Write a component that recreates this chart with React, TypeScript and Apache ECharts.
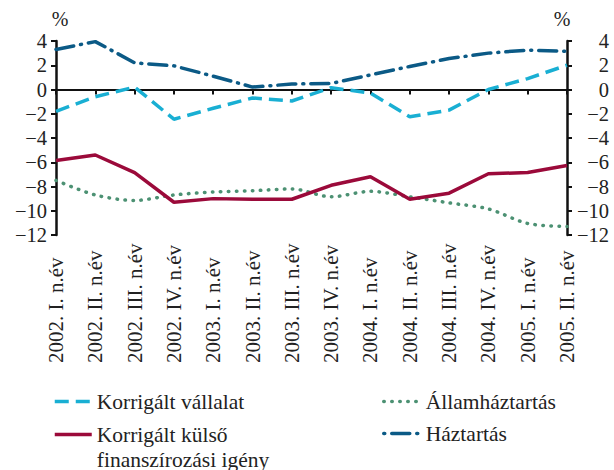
import React, { useEffect, useRef } from 'react';
import * as echarts from 'echarts';

const categories = [
  '2002. I. n.év', '2002. II. n.év', '2002. III. n.év', '2002. IV. n.év',
  '2003. I. n.év', '2003. II. n.év', '2003. III. n.év', '2003. IV. n.év',
  '2004. I. n.év', '2004. II. n.év', '2004. III. n.év', '2004. IV. n.év',
  '2005. I. n.év', '2005. II. n.év',
];
const vallalat = [-1.8, -0.6, 0.2, -2.45, -1.55, -0.7, -0.95, 0.15, -0.3, -2.25, -1.7, 0.0, 0.9, 2.0];
const kulso = [-5.85, -5.4, -6.85, -9.3, -9.0, -9.05, -9.05, -7.9, -7.2, -9.05, -8.55, -6.95, -6.85, -6.27];
const allam = [-7.5, -8.7, -9.15, -8.7, -8.45, -8.35, -8.2, -8.85, -8.4, -8.85, -9.35, -9.85, -11.05, -11.3];
const haztartas = [3.3, 3.95, 2.2, 1.95, 1.1, 0.2, 0.45, 0.5, 1.2, 1.9, 2.55, 3.0, 3.25, 3.15];

const Y_MIN = -12;
const Y_MAX = 4;
const Y_STEP = 2;

const NAME_V = 'Korrigált vállalat';
const NAME_K = 'Korrigált külső finanszírozási igény';
const NAME_A = 'Államháztartás';
const NAME_H = 'Háztartás';

const C_V = '#19AFD3';
const C_K = '#9B0A3A';
const C_A = '#4C9173';
const C_H = '#0B5A86';

const FONT = "'Liberation Serif', 'Times New Roman', serif";
const TXT = '#222222';

const fmt = (v: number) => (v < 0 ? '\u2212' + Math.abs(v) : String(v));

export default function App() {
  const ref = useRef<HTMLDivElement>(null);
  useEffect(() => {
    if (!ref.current) return;
    const chart = echarts.init(ref.current, null, { renderer: 'svg' });
    const legendBase = (name: string, left: number, top: number, extra: any = {}) => ({
      show: true,
      data: [name],
      left,
      top,
      padding: 0,
      itemWidth: 37,
      itemHeight: 14,
      selectedMode: false,
      itemStyle: { color: 'transparent', borderColor: 'transparent', borderWidth: 0, opacity: 0 },
      lineStyle: { width: 3.5, ...(extra.lineStyle || {}) },
      textStyle: { fontFamily: FONT, fontSize: 21.5, color: TXT, lineHeight: 25 },
      ...(extra.formatter ? { formatter: extra.formatter } : {}),
    });
    const yAxisBase = (pos: 'left' | 'right') => ({
      type: 'value',
      position: pos,
      min: Y_MIN,
      max: Y_MAX,
      interval: Y_STEP,
      name: '%',
      nameLocation: 'end',
      nameGap: 12,
      nameTextStyle: {
        fontFamily: FONT,
        fontSize: 20,
        color: TXT,
        padding: pos === 'left' ? [0, 0, 0, 8] : [0, 10, 0, 0],
      },
      axisLine: { show: true, lineStyle: { color: '#111', width: 2.5 } },
      axisTick: { show: true, length: 5, lineStyle: { color: '#111', width: 2 } },
      axisLabel: {
        fontFamily: FONT,
        fontSize: 20.5,
        color: TXT,
        margin: pos === 'left' ? 9 : 42,
        align: 'right',
        formatter: fmt,
      },
      splitLine: { show: false },
    });
    chart.setOption({
      animation: false,
      backgroundColor: '#ffffff',
      grid: { left: 56, right: 47, top: 41, bottom: 235, containLabel: false },
      legend: [
        legendBase(NAME_V, 53, 389),
        legendBase(NAME_K, 53, 397, {
          formatter: () => '\nKorrigált külső\nfinanszírozási igény',
        }),
        legendBase(NAME_A, 382, 389),
        legendBase(NAME_H, 382, 421, { lineStyle: { dashOffset: 25 } }),
      ],
      xAxis: [
        {
          type: 'category',
          data: categories,
          boundaryGap: false,
          position: 'bottom',
          axisLine: { show: false, onZero: false },
          axisTick: { show: false },
          axisLabel: {
            interval: 0,
            rotate: 90,
            align: 'left',
            verticalAlign: 'middle',
            margin: 128,
            fontFamily: FONT,
            fontSize: 21,
            color: TXT,
          },
        },
        {
          type: 'category',
          data: categories,
          boundaryGap: false,
          position: 'bottom',
          axisLine: { show: true, onZero: true, onZeroAxisIndex: 0, lineStyle: { color: '#111', width: 2 } },
          axisTick: { show: true, length: 5, interval: 0, lineStyle: { color: '#111', width: 2 } },
          axisLabel: { show: false },
        },
      ],
      yAxis: [yAxisBase('left'), yAxisBase('right')],
      series: [
        {
          name: NAME_V,
          type: 'line',
          data: vallalat,
          symbol: 'none',
          lineStyle: { color: C_V, width: 3.5, type: [14, 7] },
          itemStyle: { color: C_V },
          z: 4,
        },
        {
          name: NAME_K,
          type: 'line',
          data: kulso,
          symbol: 'none',
          lineStyle: { color: C_K, width: 3.5, type: 'solid' },
          itemStyle: { color: C_K },
          z: 3,
        },
        {
          name: NAME_A,
          type: 'line',
          data: allam,
          symbol: 'none',
          smooth: 0.3,
          lineStyle: { color: C_A, width: 3.5, type: [0.5, 7.5], cap: 'round' },
          itemStyle: { color: C_A },
          z: 2,
        },
        {
          name: NAME_H,
          type: 'line',
          data: haztartas,
          symbol: 'none',
          lineStyle: { color: C_H, width: 3.5, type: [18, 7, 1, 7], cap: 'round' },
          itemStyle: { color: C_H },
          z: 4,
        },
      ],
    });
    return () => chart.dispose();
  }, []);
  return (
    <div
      ref={ref}
      style={{ position: 'fixed', left: 0, top: 0, width: 614, height: 470, background: '#fff' }}
    />
  );
}
